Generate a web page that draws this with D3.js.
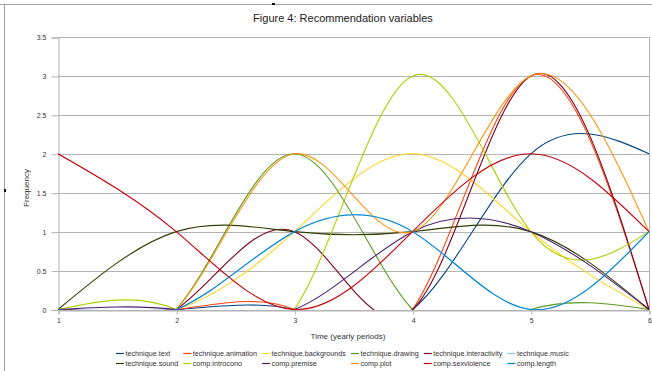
<!DOCTYPE html>
<html>
<head>
<meta charset="utf-8">
<script src="https://cdn.jsdelivr.net/npm/d3@7"></script>
<style>
  html, body { margin: 0; padding: 0; background: #fff; }
  svg { display: block; font-family: "Liberation Sans", Arial, sans-serif; }
</style>
</head>
<body>
<svg id="chart" width="652" height="371"></svg>
<script>
// Yearly periods on the x axis
const periods = [1, 2, 3, 4, 5, 6];

// Frequency of each recommendation variable per period
const techniqueText          = [0, 0, 0, 0, 2, 2];
const techniqueAnimation     = [0, 0, 0, 0, 3, 0];
const techniqueBackgrounds   = [0, 0, 1, 2, 1, 0];
const techniqueDrawing       = [0, 0, 2, 0, 0, 0];
const techniqueInteractivity = [0, 0, 1, 0, 3, 0];
const techniqueMusic         = [0, 0, 1, 1, 0, 1];
const techniqueSound         = [0, 1, 1, 1, 1, 0];
const compIntrocono          = [0, 0, 0, 3, 1, 1];
const compPremise            = [0, 0, 0, 1, 1, 0];
const compPlot               = [0, 0, 2, 1, 3, 1];
const compSexviolence        = [2, 1, 0, 1, 2, 1];
const compLength             = [0, 0, 1, 1, 0, 1];

const seriesNames = [
  "technique.text", "technique.animation", "technique.backgrounds",
  "technique.drawing", "technique.interactivity", "technique.music",
  "technique.sound", "comp.introcono", "comp.premise",
  "comp.plot", "comp.sexviolence", "comp.length"
];
const seriesValues = [
  techniqueText, techniqueAnimation, techniqueBackgrounds,
  techniqueDrawing, techniqueInteractivity, techniqueMusic,
  techniqueSound, compIntrocono, compPremise,
  compPlot, compSexviolence, compLength
];
const seriesColors = [
  "#004586", "#ff420e", "#ffd320", "#579d1c", "#7e0021", "#83caff",
  "#314004", "#aecf00", "#4b1f6f", "#ff950e", "#c5000b", "#0084d1"
];

const yTicks = [0, 0.5, 1, 1.5, 2, 2.5, 3, 3.5];
const yTickLabels = ["0", "0.5", "1", "1.5", "2", "2.5", "3", "3.5"];

const titleText = "Figure 4: Recommendation variables";
const xTitle = "Time (yearly periods)";
const yTitle = "Frequency";

const svg = d3.select("#chart");
const W = 652, H = 371;
const plot = { left: 58, right: 649, top: 37, bottom: 309.5 };

// page frame lines
svg.append("line").attr("x1", 0).attr("x2", W).attr("y1", 4.5).attr("y2", 4.5)
  .attr("stroke", "#a0a0a0").attr("stroke-width", 1);
svg.append("line").attr("x1", 4.5).attr("x2", 4.5).attr("y1", 4).attr("y2", H)
  .attr("stroke", "#a0a0a0").attr("stroke-width", 1);
svg.append("rect").attr("x", 272).attr("y", 3).attr("width", 3).attr("height", 2).attr("fill", "#111");
svg.append("rect").attr("x", 4).attr("y", 189).attr("width", 2).attr("height", 3).attr("fill", "#111");

const x = d3.scaleLinear().domain([1, 6]).range([plot.left, plot.right]);
const y = d3.scaleLinear().domain([0, 3.5]).range([plot.bottom, plot.top]);

// title
svg.append("text").attr("x", 343).attr("y", 22).attr("text-anchor", "middle")
  .attr("font-size", 11).attr("fill", "#222").text(titleText);

// horizontal grid lines
svg.append("g").selectAll("line").data(yTicks).join("line")
  .attr("x1", plot.left).attr("x2", plot.right)
  .attr("y1", d => Math.round(y(d)) + 0.5).attr("y2", d => Math.round(y(d)) + 0.5)
  .attr("stroke", "#b3b3b3").attr("stroke-width", 1);

// right edge of plot area
svg.append("line").attr("x1", plot.right + 0.5).attr("x2", plot.right + 0.5)
  .attr("y1", y(3.5)).attr("y2", y(0))
  .attr("stroke", "#b3b3b3").attr("stroke-width", 1);

// y axis
const yAxis = d3.axisLeft(y).tickValues(yTicks)
  .tickFormat((d, i) => yTickLabels[i]).tickSize(7).tickPadding(5);
const gy = svg.append("g").attr("transform", `translate(${plot.left + 0.5},0.5)`).call(yAxis);
gy.select(".domain").attr("stroke", "#b3b3b3");
gy.selectAll(".tick line").attr("stroke", "#b3b3b3");
gy.selectAll(".tick text").attr("font-size", 7).attr("fill", "#333")
  .attr("font-family", "Liberation Sans, Arial, sans-serif");

// x axis
const xAxis = d3.axisBottom(x).tickValues(periods).tickFormat(d3.format("d"))
  .tickSize(4).tickPadding(4);
const gx = svg.append("g").attr("transform", `translate(0.5,${Math.round(y(0)) + 0.5})`).call(xAxis);
gx.select(".domain").attr("stroke", "#b3b3b3");
gx.selectAll(".tick line").attr("stroke", "#b3b3b3");
gx.selectAll(".tick text").attr("font-size", 7).attr("fill", "#333")
  .attr("font-family", "Liberation Sans, Arial, sans-serif");

// axis titles
svg.append("text").attr("x", 348).attr("y", 339).attr("text-anchor", "middle")
  .attr("font-size", 8).attr("fill", "#333").text(xTitle);
svg.append("text").attr("transform", "translate(29,188) rotate(-90)")
  .attr("text-anchor", "middle").attr("font-size", 8).attr("fill", "#333").text(yTitle);

// clip lines to the plot area
svg.append("clipPath").attr("id", "plotClip").append("rect")
  .attr("x", plot.left).attr("y", plot.top - 2)
  .attr("width", plot.right - plot.left + 1).attr("height", plot.bottom - plot.top + 2.5);

const line = d3.line()
  .x((d, i) => x(periods[i]))
  .y(d => y(d))
  .curve(d3.curveNatural);

svg.append("g").attr("clip-path", "url(#plotClip)")
  .selectAll("path").data(seriesValues).join("path")
  .attr("d", d => line(d))
  .attr("fill", "none")
  .attr("stroke", (d, i) => seriesColors[i])
  .attr("stroke-width", 1.1);

// legend: 6 columns, 2 rows, columns sized by their widest label
const legend = svg.append("g").attr("font-size", 7.2).attr("fill", "#333");
const cols = 6;
const symLen = 8, symGap = 1.5, colGap = 5;
const measure = svg.append("text").attr("font-size", 7.2).attr("visibility", "hidden");
const widths = seriesNames.map(n => { measure.text(n); return measure.node().getComputedTextLength(); });
measure.remove();
const colWidths = d3.range(cols).map(c => Math.max(widths[c], widths[c + cols]));
let cx = 116;
const colX = colWidths.map(w => { const v = cx; cx += symLen + symGap + w + colGap; return v; });
const rowY = [356, 366];

seriesNames.forEach((name, i) => {
  const c = i % cols, r = Math.floor(i / cols);
  const g = legend.append("g").attr("transform", `translate(${colX[c]},${rowY[r]})`);
  g.append("line").attr("x1", 0).attr("x2", symLen).attr("y1", -2.5).attr("y2", -2.5)
    .attr("stroke", seriesColors[i]).attr("stroke-width", 1.2);
  g.append("text").attr("x", symLen + symGap).attr("y", 0).text(name);
});
</script>
</body>
</html>
